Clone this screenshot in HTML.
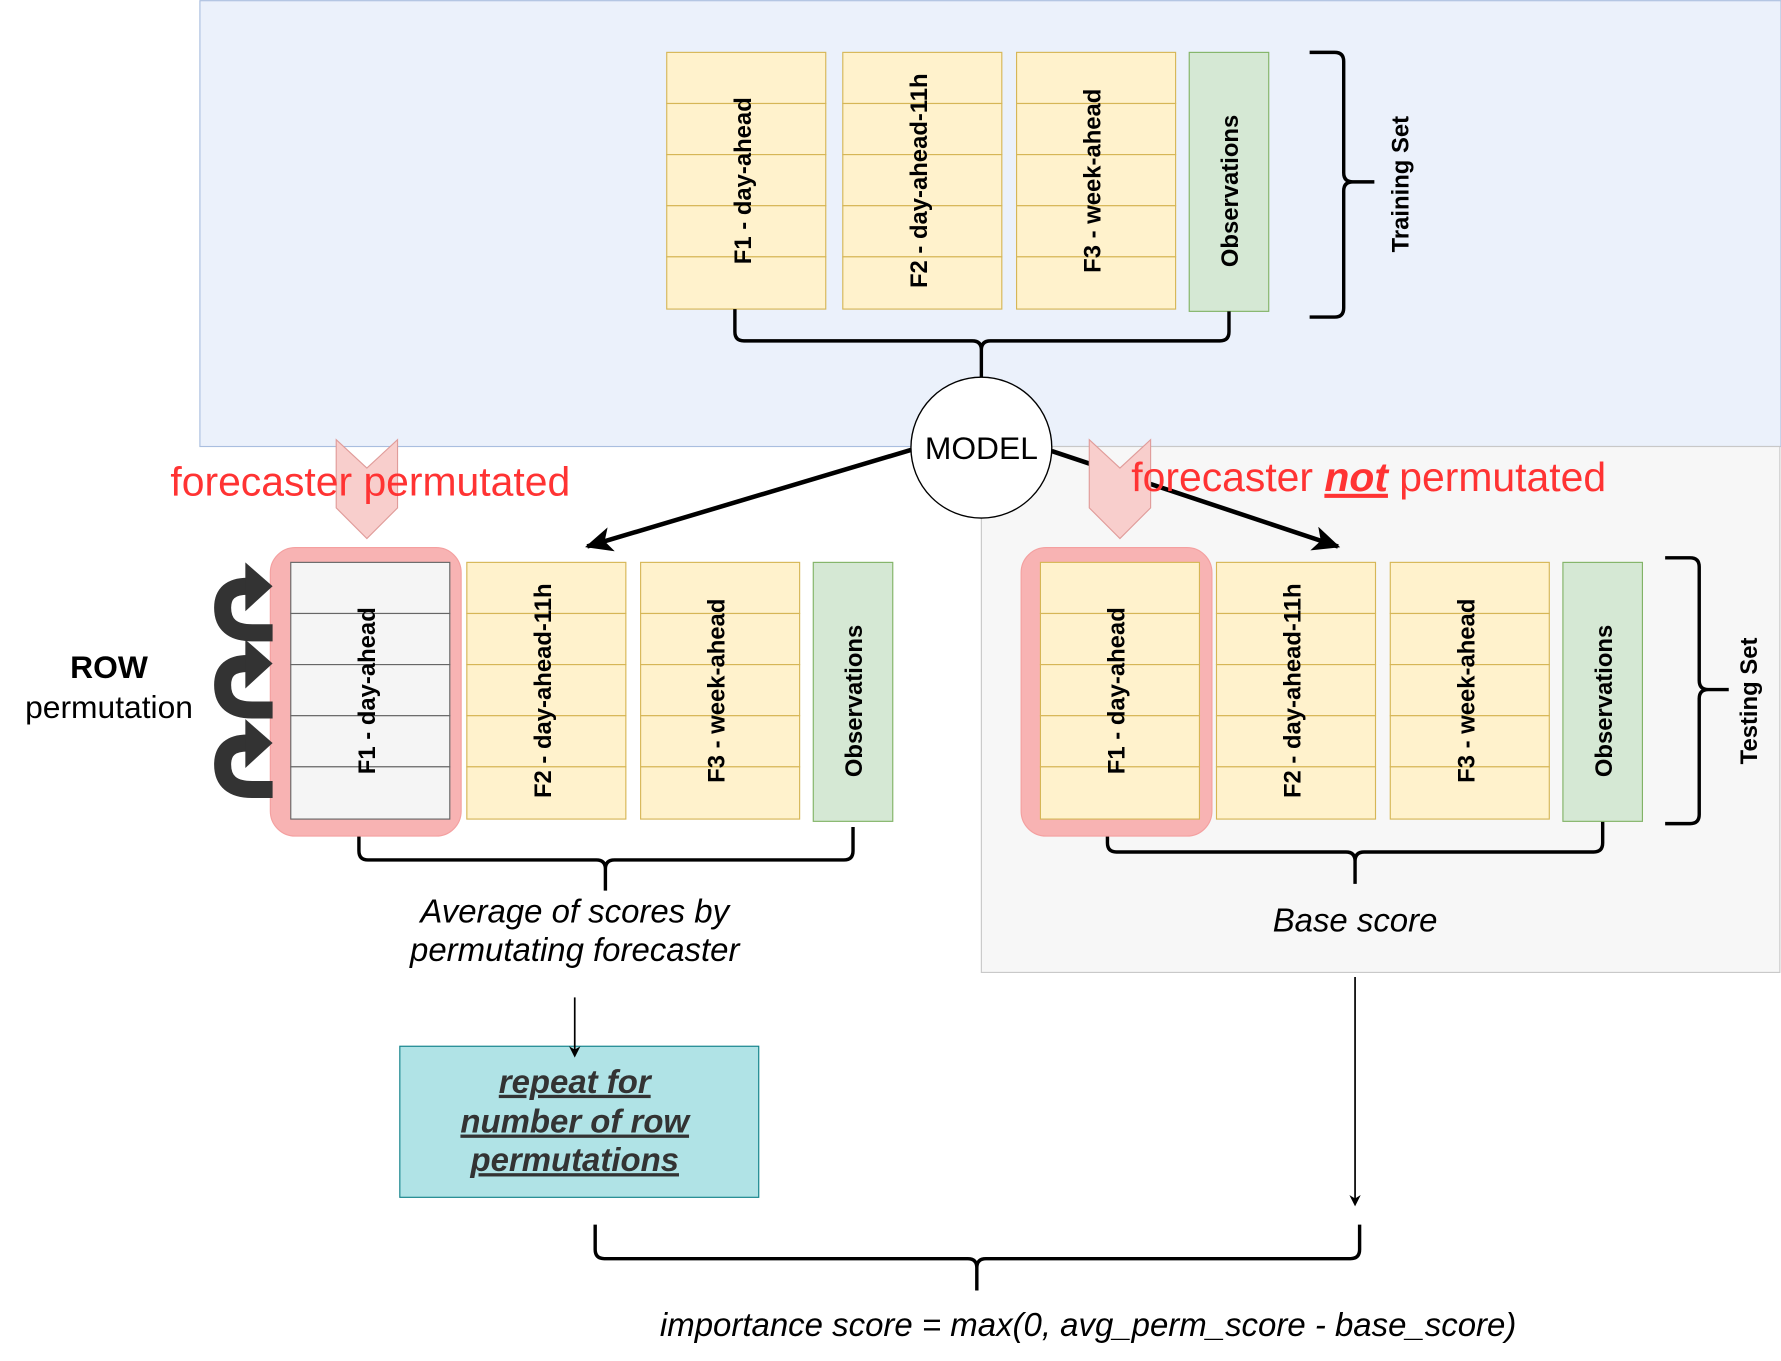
<!DOCTYPE html>
<html><head><meta charset="utf-8"><style>
html,body{margin:0;padding:0;background:#fff}
svg{display:block}
text{font-family:"Liberation Sans",Arial,sans-serif}
.c{font-weight:bold;font-size:21px;fill:#000}
</style></head><body>
<svg width="1781" height="1361" viewBox="0 0 1568 1198" xmlns="http://www.w3.org/2000/svg">
<defs>
<marker id="ah" markerWidth="10" markerHeight="10" refX="8" refY="5" orient="auto" markerUnits="userSpaceOnUse"><path d="M0,0 L10,5 L0,10 L3,5z" fill="#000"/></marker>
<marker id="ab" markerWidth="26" markerHeight="22" refX="22" refY="11" orient="auto" markerUnits="userSpaceOnUse"><path d="M0,0 L24,11 L0,22 L6,11z" fill="#000"/></marker>
</defs>
<rect x="176" y="0.5" width="1392" height="392.5" fill="#ebf1fb" stroke="#a9bedf"/>
<rect x="864" y="393" width="703" height="463" fill="#f7f7f7" stroke="#c8c8c8"/>

<g stroke="#d6b656" fill="#fff2cc">
<rect x="587" y="46" width="140" height="45"/><rect x="587" y="91" width="140" height="45"/><rect x="587" y="136" width="140" height="45"/><rect x="587" y="181" width="140" height="45"/><rect x="587" y="226" width="140" height="46"/>
<rect x="742" y="46" width="140" height="45"/><rect x="742" y="91" width="140" height="45"/><rect x="742" y="136" width="140" height="45"/><rect x="742" y="181" width="140" height="45"/><rect x="742" y="226" width="140" height="46"/>
<rect x="895" y="46" width="140" height="45"/><rect x="895" y="91" width="140" height="45"/><rect x="895" y="136" width="140" height="45"/><rect x="895" y="181" width="140" height="45"/><rect x="895" y="226" width="140" height="46"/>
</g>
<rect x="1047" y="46" width="70" height="228" fill="#d5e8d4" stroke="#82b366"/>
<text class="c" transform="translate(661,159) rotate(-90)" text-anchor="middle">F1 - day-ahead</text>
<text class="c" transform="translate(816,159) rotate(-90)" text-anchor="middle">F2 - day-ahead-11h</text>
<text class="c" transform="translate(969,159) rotate(-90)" text-anchor="middle">F3 - week-ahead</text>
<text class="c" transform="translate(1090,168) rotate(-90)" text-anchor="middle">Observations</text>

<g fill="none" stroke="#000" stroke-width="3">
<path d="M647,272 V292 Q647,300 655,300 H856 Q864,300 864,308 V332 M864,308 Q864,300 872,300 H1074 Q1082,300 1082,292 V274"/>
<path d="M1153,46 H1175 Q1183,46 1183,54 V152 Q1183,160 1191,160 H1210 M1191,160 Q1183,160 1183,168 V271 Q1183,279 1175,279 H1153"/>
<path d="M316,728 V749 Q316,757 324,757 H525 Q533,757 533,765 V784 M533,765 Q533,757 541,757 H743 Q751,757 751,749 V728"/>
<path d="M975,722 V742 Q975,750 983,750 H1185 Q1193,750 1193,758 V778 M1193,758 Q1193,750 1201,750 H1403 Q1411,750 1411,742 V722"/>
<path d="M1466,491 H1488 Q1496,491 1496,499 V599 Q1496,607 1504,607 H1522 M1504,607 Q1496,607 1496,615 V717 Q1496,725 1488,725 H1466"/>
<path d="M524,1078 V1100 Q524,1108 532,1108 H852 Q860,1108 860,1116 V1136 M860,1116 Q860,1108 868,1108 H1189 Q1197,1108 1197,1100 V1078"/>
</g>
<text class="c" transform="translate(1240,162) rotate(-90)" text-anchor="middle">Training Set</text>
<text class="c" transform="translate(1547,617) rotate(-90)" text-anchor="middle">Testing Set</text>

<line x1="802" y1="396" x2="517" y2="481" stroke="#000" stroke-width="4" marker-end="url(#ab)"/>
<line x1="926" y1="397" x2="1178" y2="481" stroke="#000" stroke-width="4" marker-end="url(#ab)"/>
<circle cx="864" cy="394" r="62" fill="#fff" stroke="#000" stroke-width="1.2"/>
<text x="864" y="404" text-anchor="middle" font-size="28">MODEL</text>

<rect x="238" y="482" width="168" height="254" rx="22" fill="#f8b3b3" stroke="#f4a0a0"/>
<g stroke="#666" fill="#f5f5f5">
<rect x="256" y="495" width="140" height="45"/><rect x="256" y="540" width="140" height="45"/><rect x="256" y="585" width="140" height="45"/><rect x="256" y="630" width="140" height="45"/><rect x="256" y="675" width="140" height="46"/>
</g>
<g stroke="#d6b656" fill="#fff2cc">
<rect x="411" y="495" width="140" height="45"/><rect x="411" y="540" width="140" height="45"/><rect x="411" y="585" width="140" height="45"/><rect x="411" y="630" width="140" height="45"/><rect x="411" y="675" width="140" height="46"/>
<rect x="564" y="495" width="140" height="45"/><rect x="564" y="540" width="140" height="45"/><rect x="564" y="585" width="140" height="45"/><rect x="564" y="630" width="140" height="45"/><rect x="564" y="675" width="140" height="46"/>
</g>
<rect x="716" y="495" width="70" height="228" fill="#d5e8d4" stroke="#82b366"/>
<text class="c" transform="translate(330,608) rotate(-90)" text-anchor="middle">F1 - day-ahead</text>
<text class="c" transform="translate(485,608) rotate(-90)" text-anchor="middle">F2 - day-ahead-11h</text>
<text class="c" transform="translate(638,608) rotate(-90)" text-anchor="middle">F3 - week-ahead</text>
<text class="c" transform="translate(759,617) rotate(-90)" text-anchor="middle">Observations</text>

<g fill="none" stroke="#333" stroke-width="15">
<path d="M240,557 H222 Q196,557 196,535 Q196,516 218,516"/>
<path d="M240,625 H222 Q196,625 196,603 Q196,584 218,584"/>
<path d="M240,695 H222 Q196,695 196,673 Q196,654 218,654"/>
</g>
<g fill="#333">
<path d="M216,495 L240,516 L216,538z"/><path d="M216,563 L240,584 L216,606z"/><path d="M216,633 L240,654 L216,676z"/>
</g>
<text x="96" y="597" text-anchor="middle" font-size="28" font-weight="bold">ROW</text>
<text x="96" y="632" text-anchor="middle" font-size="28">permutation</text>

<rect x="899" y="482" width="168" height="254" rx="22" fill="#f8b3b3" stroke="#f4a0a0"/>
<g stroke="#d6b656" fill="#fff2cc">
<rect x="916" y="495" width="140" height="45"/><rect x="916" y="540" width="140" height="45"/><rect x="916" y="585" width="140" height="45"/><rect x="916" y="630" width="140" height="45"/><rect x="916" y="675" width="140" height="46"/>
<rect x="1071" y="495" width="140" height="45"/><rect x="1071" y="540" width="140" height="45"/><rect x="1071" y="585" width="140" height="45"/><rect x="1071" y="630" width="140" height="45"/><rect x="1071" y="675" width="140" height="46"/>
<rect x="1224" y="495" width="140" height="45"/><rect x="1224" y="540" width="140" height="45"/><rect x="1224" y="585" width="140" height="45"/><rect x="1224" y="630" width="140" height="45"/><rect x="1224" y="675" width="140" height="46"/>
</g>
<rect x="1376" y="495" width="70" height="228" fill="#d5e8d4" stroke="#82b366"/>
<text class="c" transform="translate(990,608) rotate(-90)" text-anchor="middle">F1 - day-ahead</text>
<text class="c" transform="translate(1145,608) rotate(-90)" text-anchor="middle">F2 - day-ahead-11h</text>
<text class="c" transform="translate(1298,608) rotate(-90)" text-anchor="middle">F3 - week-ahead</text>
<text class="c" transform="translate(1419,617) rotate(-90)" text-anchor="middle">Observations</text>

<path d="M296,387 L323,412 L350,387 L350,447 L323,474 L296,447z" fill="#f8cecc" stroke="#e09c9a"/>
<path d="M959,387 L986,412 L1013,387 L1013,447 L986,474 L959,447z" fill="#f8cecc" stroke="#e09c9a"/>
<text x="150" y="436" font-size="36" fill="#ff3333" textLength="352" lengthAdjust="spacingAndGlyphs">forecaster permutated</text>
<text x="996" y="432" font-size="36" fill="#ff3333" textLength="418" lengthAdjust="spacingAndGlyphs">forecaster <tspan font-weight="bold" font-style="italic" text-decoration="underline">not</tspan> permutated</text>

<text x="506" y="812" text-anchor="middle" font-size="29" font-style="italic">Average of scores by</text>
<text x="506" y="846" text-anchor="middle" font-size="29" font-style="italic">permutating forecaster</text>
<text x="1193" y="820" text-anchor="middle" font-size="29" font-style="italic">Base score</text>

<line x1="1193" y1="860" x2="1193" y2="1060" stroke="#000" stroke-width="1.5" marker-end="url(#ah)"/>

<rect x="352" y="921" width="316" height="133" fill="#b0e3e6" stroke="#0e8088"/>
<line x1="506" y1="878" x2="506" y2="929" stroke="#000" stroke-width="1.5" marker-end="url(#ah)"/>
<g font-size="29" font-weight="bold" font-style="italic" fill="#333" text-anchor="middle" text-decoration="underline">
<text x="506" y="962">repeat for</text>
<text x="506" y="997">number of row</text>
<text x="506" y="1031">permutations</text>
</g>

<text x="958" y="1176" text-anchor="middle" font-size="29" font-style="italic" textLength="754" lengthAdjust="spacingAndGlyphs">importance score = max(0, avg_perm_score - base_score)</text>
</svg>
</body></html>
